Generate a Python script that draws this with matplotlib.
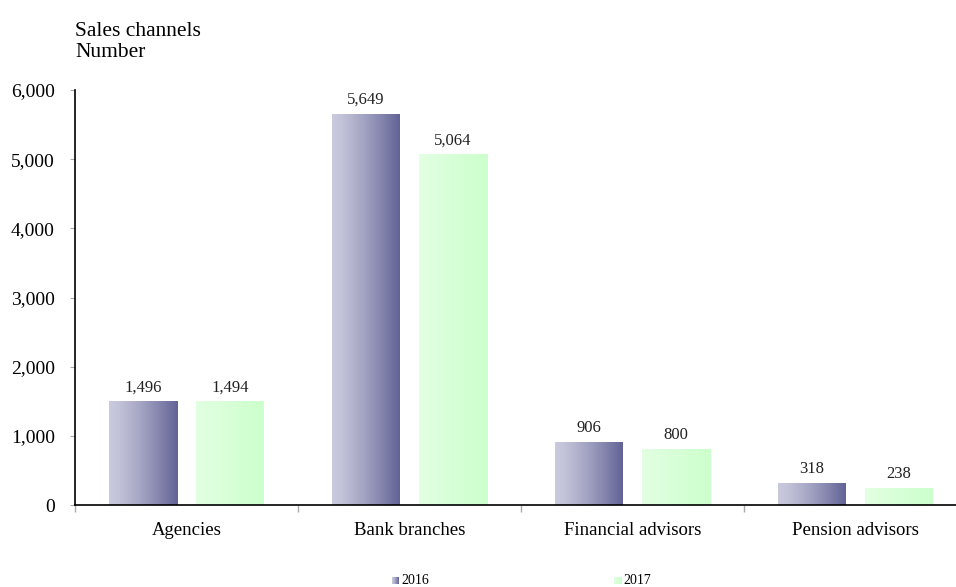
import matplotlib.pyplot as plt
import numpy as np

categories = ["Agencies", "Bank branches", "Financial advisors", "Pension advisors"]
years = ["2016", "2017"]
vals_2016 = [1496, 5649, 906, 318]
vals_2017 = [1494, 5064, 800, 238]

plt.rcParams['font.family'] = ['Liberation Serif', 'DejaVu Serif']

W, H = 956, 587
fig = plt.figure(figsize=(W / 100, H / 100), dpi=100)
# axes spans 4 category slots of ~223px, last one runs off the right edge
ax = fig.add_axes([75 / W, (H - 505) / H, 892 / W, 415 / H])

def grad(c0, c1, power=1.0):
    t = np.linspace(0, 1, 256) ** power
    c0 = np.array(c0) / 255.0
    c1 = np.array(c1) / 255.0
    return (c0[None, :] * (1 - t[:, None]) + c1[None, :] * t[:, None])[None, :, :]

g16 = grad((202, 202, 222), (98, 98, 150), 1.3)
g17 = grad((226, 255, 226), (204, 255, 204), 1.0)

x = np.arange(len(categories))
bw = 68 / 223
off = 43.5 / 223
b1 = ax.bar(x - off, vals_2016, bw, color='none')
b2 = ax.bar(x + off, vals_2017, bw, color='none')

for bars, g, vals in [(b1, g16, vals_2016), (b2, g17, vals_2017)]:
    for r, v in zip(bars, vals):
        x0 = r.get_x()
        ax.imshow(g, extent=[x0, x0 + r.get_width(), 0, r.get_height()],
                  aspect='auto', interpolation='bilinear', zorder=2)
        ax.text(x0 + r.get_width() / 2, v + 90, f"{v:,}", ha='center', va='bottom',
                fontsize=12, color='#222222')

ax.set_xlim(-0.5, 3.5)
ax.set_ylim(0, 6000)
ax.set_yticks(np.arange(0, 6001, 1000))
ax.set_yticklabels([f"{v:,}" for v in range(0, 6001, 1000)], fontsize=14)
ax.set_xticks(x)
ax.set_xticklabels(categories, fontsize=13.5)
ax.set_xticks(np.arange(-0.5, 3.6, 1), minor=True)
ax.tick_params(axis='x', which='major', length=0, pad=12)
ax.tick_params(axis='x', which='minor', length=5, color='#aaaaaa', width=1)
ax.tick_params(axis='y', length=3.6, color='#aaaaaa', pad=11)
for s in ['top', 'right']:
    ax.spines[s].set_visible(False)
ax.spines['left'].set_linewidth(1.2)
ax.spines['bottom'].set_linewidth(1.2)

fig.text(75 / W, 1 - 57 / H, "Sales channels\nNumber", fontsize=15.5, ha='left',
         va='baseline', linespacing=1.15)

# legend with small gradient squares
for gx, g, tx, lab in [(392, g16, 401, years[0]), (614, g17, 623, years[1])]:
    lax = fig.add_axes([gx / W, 1 - 584 / H, 7 / W, 7 / H])
    lax.imshow(g, aspect='auto', interpolation='bilinear')
    lax.set_axis_off()
    fig.text(tx / W, 1 - 584 / H, lab, fontsize=10, ha='left', va='baseline')

fig.savefig("out.png", dpi=100)
